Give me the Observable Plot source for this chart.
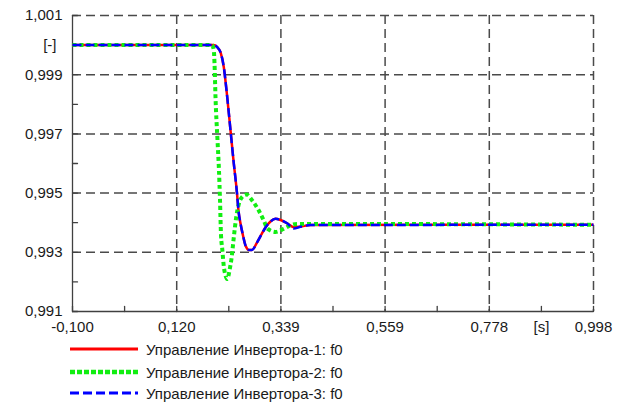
<!DOCTYPE html>
<html>
<head>
<meta charset="utf-8">
<script src="https://cdn.jsdelivr.net/npm/d3@7"></script>
<script src="https://cdn.jsdelivr.net/npm/@observablehq/plot@0.6"></script>
<style>
  html, body { margin: 0; padding: 0; background: #fff; }
  #wrap { position: relative; width: 617px; height: 406px; font-family: "Liberation Sans", Arial, sans-serif; color: #1a1a1a; }
  .leg { position: absolute; left: 68px; height: 20px; display: flex; align-items: center; font-size: 15px; white-space: nowrap; }
  .leg svg { margin-right: 6px; }
</style>
</head>
<body>
<div id="wrap"></div>
<script>
// x axis ticks (time, s)
const xTicks = [-0.100, 0.1196, 0.3392, 0.5588, 0.7784, 0.998];
const xTickLabels = ["-0,100", "0,120", "0,339", "0,559", "0,778", "0,998"];
// y axis ticks
const yTicks = [0.991, 0.993, 0.995, 0.997, 0.999, 1.001];
const yTickLabels = ["0,991", "0,993", "0,995", "0,997", "0,999", "1,001"];
const xUnit = "[s]";
const yUnit = "[-]";

// Series 1: Управление Инвертора-1: f0
const t1 = [-0.100, 0.197, 0.2050, 0.2119, 0.2189, 0.2246, 0.2330, 0.2393, 0.2467, 0.2498, 0.2541, 0.2593, 0.2646, 0.2720, 0.2783, 0.2888, 0.2994, 0.3067, 0.3173, 0.3278, 0.3384, 0.3531, 0.3658, 0.3805, 0.4016, 0.998];
const v1 = [1.00000, 1.00000, 0.99993, 0.99976, 0.99925, 0.99847, 0.99712, 0.99610, 0.99499, 0.99441, 0.99397, 0.99357, 0.99323, 0.99308, 0.99308, 0.99333, 0.99364, 0.99384, 0.99404, 0.99413, 0.99409, 0.99397, 0.99385, 0.99387, 0.99392, 0.99393];
// Series 2: Управление Инвертора-2: f0
const t2 = [-0.100, 0.1944, 0.1978, 0.1993, 0.2014, 0.2056, 0.2087, 0.2109, 0.2130, 0.2155, 0.2189, 0.2224, 0.2256, 0.2288, 0.2309, 0.2351, 0.2399, 0.2450, 0.2505, 0.2576, 0.2667, 0.2787, 0.2926, 0.3032, 0.3110, 0.3278, 0.3447, 0.3594, 0.3742, 0.998];
const v2 = [1.00000, 1.00000, 0.99982, 0.99938, 0.99823, 0.99678, 0.99576, 0.99475, 0.99357, 0.99313, 0.99252, 0.99222, 0.99210, 0.99222, 0.99239, 0.99279, 0.99350, 0.99418, 0.99463, 0.99487, 0.99495, 0.99475, 0.99441, 0.99407, 0.99380, 0.99369, 0.99379, 0.99391, 0.99396, 0.99393];
// Series 3: Управление Инвертора-3: f0
const t3 = t1.slice();
const v3 = [1.00000, 1.00000, 0.99993, 0.99976, 0.99925, 0.99847, 0.99712, 0.99610, 0.99499, 0.99441, 0.99397, 0.99357, 0.99323, 0.99308, 0.99308, 0.99333, 0.99364, 0.99384, 0.99404, 0.99413, 0.99409, 0.99397, 0.99380, 0.99386, 0.99392, 0.99393];

const seriesNames = ["Управление Инвертора-1: f0", "Управление Инвертора-2: f0", "Управление Инвертора-3: f0"];
const seriesColors = ["#ff0000", "#11ee11", "#0000ff"];
const seriesDash = ["none", "4,3", "9,4"];
const seriesWidth = [2.5, 4, 2.5];

const toRows = (t, v) => t.map((d, i) => ({t: d, v: v[i]}));
const s1 = toRows(t1, v1), s2 = toRows(t2, v2), s3 = toRows(t3, v3);

const xMinor = xTicks.slice(1).map((d, i) => (d + xTicks[i]) / 2);
const yMinor = yTicks.slice(1).map((d, i) => (d + yTicks[i]) / 2);

const tickShape = {draw(ctx, l) { ctx.moveTo(0, 0); ctx.lineTo(0, -l); }};
const gridStyle = {stroke: "#4a4a4a", strokeOpacity: 1, strokeWidth: 1.5, strokeDasharray: "9,5"};
const font = {fontSize: 15, fill: "#1a1a1a", fontFamily: "Liberation Sans, Arial, sans-serif"};

const lineMark = (rows, i) => Plot.line(rows, {
  x: "t", y: "v", stroke: seriesColors[i], strokeWidth: seriesWidth[i],
  strokeDasharray: seriesDash[i], curve: "monotone-x", className: "series" + i
});

const chart = Plot.plot({
  width: 617,
  height: 338,
  marginTop: 15,
  marginLeft: 72,
  marginRight: 24,
  marginBottom: 27,
  style: {background: "#fff", overflow: "visible"},
  x: {domain: [xTicks[0], xTicks[xTicks.length - 1]], axis: null},
  y: {domain: [yTicks[0], yTicks[yTicks.length - 1]], axis: null},
  marks: [
    Plot.gridX(xTicks.slice(1), gridStyle),
    Plot.gridY(yTicks.slice(1), gridStyle),
    Plot.vectorY(xMinor.concat(xTicks), {x: d => d, y: yTicks[0], length: 5, rotate: 0, anchor: "start", shape: tickShape, stroke: "#404040", strokeWidth: 1.3}),
    Plot.vectorX(yMinor.concat(yTicks), {y: d => d, x: xTicks[0], length: 5, rotate: 90, anchor: "start", shape: tickShape, stroke: "#404040", strokeWidth: 1.3}),
    Plot.ruleX([xTicks[0]], {stroke: "#404040", strokeWidth: 1.3}),
    Plot.ruleY([yTicks[0]], {stroke: "#404040", strokeWidth: 1.3}),
    lineMark(s1, 0),
    lineMark(s2, 1),
    lineMark(s3, 2),
    Plot.text(xTicks, {x: d => d, frameAnchor: "bottom", dy: 10, lineAnchor: "top", text: (d, i) => xTickLabels[i], ...font}),
    Plot.text([xUnit], {x: (xTicks[4] + xTicks[5]) / 2, frameAnchor: "bottom", dy: 10, lineAnchor: "top", text: d => d, ...font}),
    Plot.text(yTicks, {y: d => d, frameAnchor: "left", dx: -10, textAnchor: "end", text: (d, i) => yTickLabels[i], ...font}),
    Plot.text([yUnit], {y: (yTicks[4] + yTicks[5]) / 2, frameAnchor: "left", dx: -16, textAnchor: "end", text: d => d, ...font})
  ]
});

// make sure line dash patterns are applied on the drawn paths
seriesDash.forEach((dash, i) => {
  d3.select(chart).selectAll(".series" + i + " path, g.series" + i + " path")
    .attr("stroke-dasharray", dash === "none" ? null : dash)
    .attr("stroke-linecap", "butt");
});

const wrap = document.getElementById("wrap");
wrap.appendChild(chart);

const legendTops = [339, 362, 383];
const legendDash = [null, "5,2", "9,4"];
const legendWidth = [3, 4.5, 3];
seriesNames.forEach((name, i) => {
  const row = document.createElement("div");
  row.className = "leg";
  row.style.top = legendTops[i] + "px";
  const svg = d3.create("svg").attr("width", 72).attr("height", 20);
  svg.append("line").attr("x1", 2).attr("x2", 70).attr("y1", 10).attr("y2", 10)
    .attr("stroke", seriesColors[i]).attr("stroke-width", legendWidth[i])
    .attr("stroke-dasharray", legendDash[i]);
  row.appendChild(svg.node());
  const span = document.createElement("span");
  span.textContent = name;
  row.appendChild(span);
  wrap.appendChild(row);
});
</script>
</body>
</html>
